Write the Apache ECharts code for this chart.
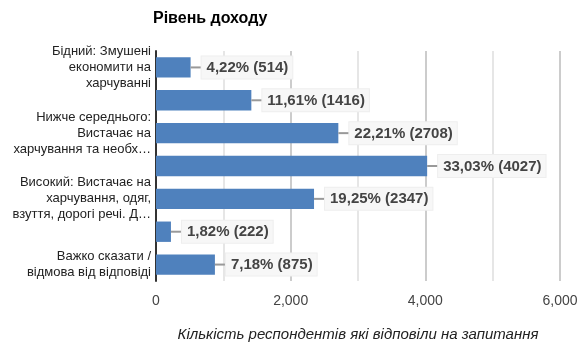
<!DOCTYPE html>
<html>
<head>
<meta charset="utf-8">
<script src="https://cdn.jsdelivr.net/npm/echarts@6/dist/echarts.min.js"></script>
<style>
html,body{margin:0;padding:0;background:#fff;}
#chart{width:585px;height:347px;}
</style>
</head>
<body>
<div id="chart"></div>
<script>
// Income level categories (top to bottom); alternate labels are hidden by the axis
const categories = [
  'Бідний: Змушені\nекономити на\nхарчуванні',
  'Нижче середнього',
  'Нижче середнього:\nВистачає на\nхарчування та необх…',
  'Середній',
  'Високий: Вистачає на\nхарчування, одяг,\nвзуття, дорогі речі. Д…',
  'Дуже високий',
  'Важко сказати /\nвідмова від відповіді'
];
const counts = [514, 1416, 2708, 4027, 2347, 222, 875];
const percents = ['4,22', '11,61', '22,21', '33,03', '19,25', '1,82', '7,18'];
const xTicks = [0, 2000, 4000, 6000];

const chart = echarts.init(document.getElementById('chart'));
const font = 'Liberation Sans, Arial, sans-serif';

chart.setOption({
  animation: false,
  title: {
    text: 'Рівень доходу',
    left: 148, top: 6,
    textStyle: { fontFamily: font, fontSize: 16, fontWeight: 'bold', color: '#000' }
  },
  grid: { left: 156, right: 25, top: 51, bottom: 60, containLabel: false },
  xAxis: {
    type: 'value',
    min: 0, max: 6000, interval: 1000,
    name: 'Кількість респондентів які відповіли на запитання',
    nameLocation: 'middle',
    nameGap: 46,
    nameTextStyle: { fontFamily: font, fontSize: 15, fontStyle: 'italic', color: '#222' },
    axisLine: { show: false },
    axisTick: { show: false },
    axisLabel: {
      fontFamily: font, fontSize: 14, color: '#444', margin: 13,
      formatter: v => xTicks.includes(v) ? v.toLocaleString('en-US') : ''
    },
    splitLine: { show: true, lineStyle: { color: ['#cccccc', '#e6e6e6'], width: 2 } }
  },
  yAxis: {
    type: 'category',
    inverse: true,
    data: categories,
    axisLine: { show: true, lineStyle: { color: '#333', width: 2 } },
    axisTick: { show: false },
    axisLabel: {
      interval: 1,
      fontFamily: font, fontSize: 13, color: '#222', lineHeight: 16, margin: 5, align: 'right'
    }
  },
  series: [{
    type: 'bar',
    data: counts,
    barCategoryGap: '38%',
    itemStyle: { color: '#4f81bd' },
    label: {
      show: true,
      position: 'right',
      distance: 0,
      formatter: p => '{l| }{v|' + percents[p.dataIndex] + '% (' + counts[p.dataIndex] + ')}',
      rich: {
        l: { width: 11, height: 2, fontSize: 2, lineHeight: 2, backgroundColor: '#999', verticalAlign: 'middle' },
        v: {
          fontFamily: font, fontSize: 15, fontWeight: 'bold', color: '#444',
          backgroundColor: '#f7f7f7', borderColor: '#eeeeee', borderWidth: 1,
          padding: [4, 4, 3, 5], verticalAlign: 'middle'
        }
      }
    }
  }]
});
</script>
</body>
</html>
